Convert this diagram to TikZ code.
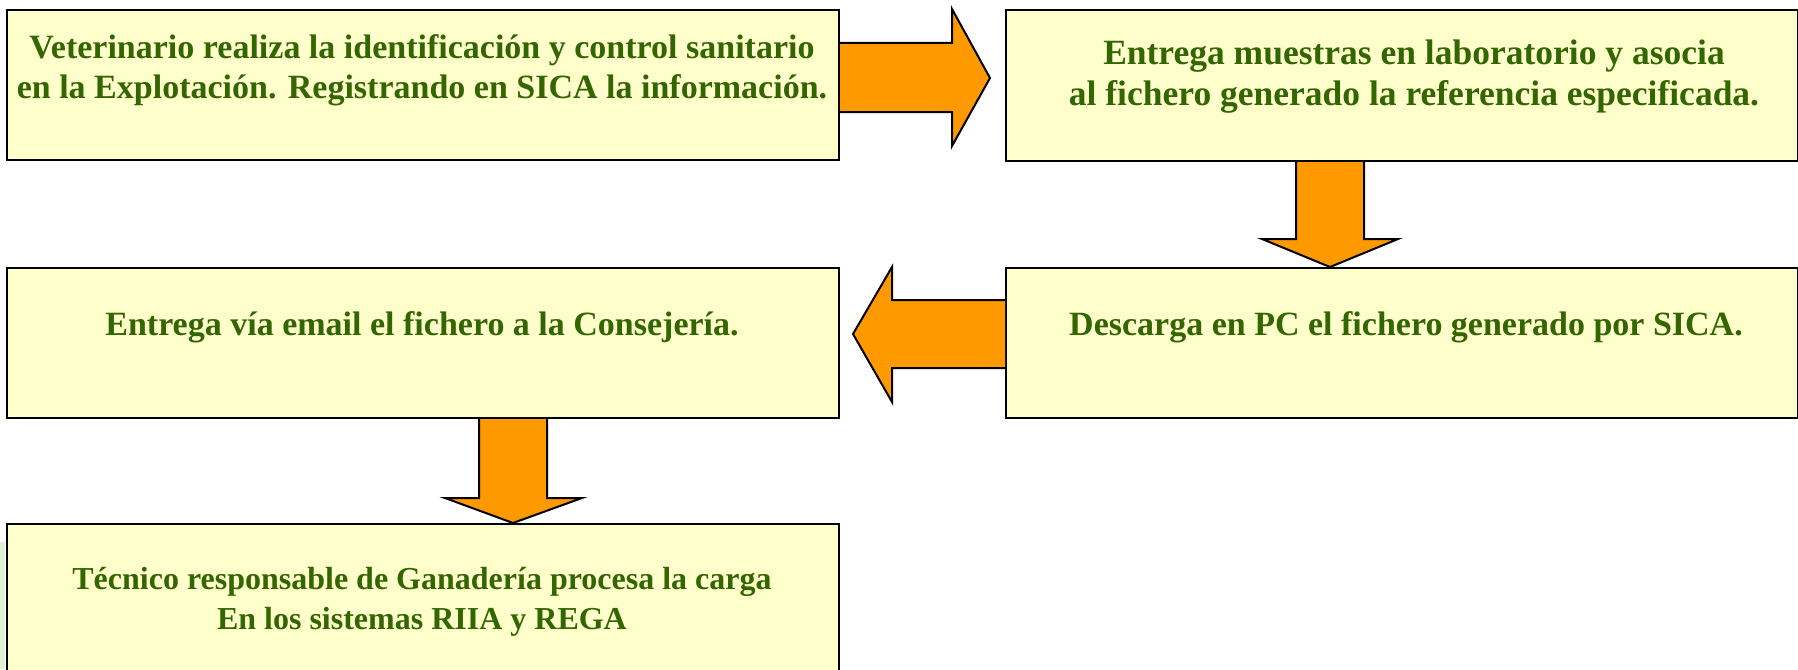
\documentclass[tikz,border=0pt]{standalone}
\usepackage{fontspec}
\setmainfont{Liberation Serif}
\definecolor{boxfill}{HTML}{FFFFCC}
\definecolor{txtgreen}{HTML}{336600}
\definecolor{arrowfill}{HTML}{FF9900}
\definecolor{sidegreen}{HTML}{E2F0D2}
\tikzset{
  stepbox/.style={draw=black, line width=2pt, fill=boxfill, rectangle, anchor=north west, inner sep=0pt},
  steptext/.style={text=txtgreen, font=\fontsize{34}{40}\selectfont\bfseries, align=center, inner sep=0pt},
  blockarrow/.style={draw=black, line width=2pt, fill=arrowfill, line join=miter}
}
\begin{document}
\begin{tikzpicture}[x=1pt,y=-1pt]
\clip (0,0) rectangle (1798,669);
\fill[white] (0,0) rectangle (1798,669);
\fill[sidegreen] (0,542) rectangle (5,669);
% boxes
\node[stepbox, minimum width=832pt, minimum height=150pt] (b1) at (6,9) {};
\node[stepbox, minimum width=792pt, minimum height=151pt] (b2) at (1005,9) {};
\node[stepbox, minimum width=832pt, minimum height=150pt] (b3) at (6,267) {};
\node[stepbox, minimum width=792pt, minimum height=150pt] (b4) at (1005,267) {};
\node[stepbox, minimum width=832pt, minimum height=170pt] (b5) at (6,523) {};
% texts
\node[steptext] (t1) at (422,70) {Veterinario realiza la identificación y control sanitario\\en la Explotación. Registrando en SICA la información.};
\node[steptext, font=\fontsize{35.5}{41}\selectfont\bfseries] (t2) at (1414,77) {Entrega muestras en laboratorio y asocia\\al fichero generado la referencia especificada.};
\node[steptext] (t3) at (422,327) {Entrega vía email el fichero a la Consejería.};
\node[steptext] (t4) at (1406,327) {Descarga en PC el fichero generado por SICA.};
\node[steptext, font=\fontsize{32}{40}\selectfont\bfseries] (t5) at (422,602) {Técnico responsable de Ganadería procesa la carga\\En los sistemas RIIA y REGA};
% block arrows
\draw[blockarrow] (b1.east |- 0,43) -- (952,43) -- (952,9) -- (990,78) -- (952,146) -- (952,112) -- (b1.east |- 0,112);
\draw[blockarrow] (1296,0 |- b2.south) -- (1296,239) -- (1262,239) -- (1330,0 |- b4.north) -- (1398,239) -- (1364,239) -- (1364,0 |- b2.south);
\draw[blockarrow] (b4.west |- 0,300) -- (892,300) -- (892,267) -- (853,334) -- (892,402) -- (892,368) -- (b4.west |- 0,368);
\draw[blockarrow] (479,0 |- b3.south) -- (479,498) -- (445,498) -- (513,0 |- b5.north) -- (582,498) -- (547,498) -- (547,0 |- b3.south);
\end{tikzpicture}
\end{document}
